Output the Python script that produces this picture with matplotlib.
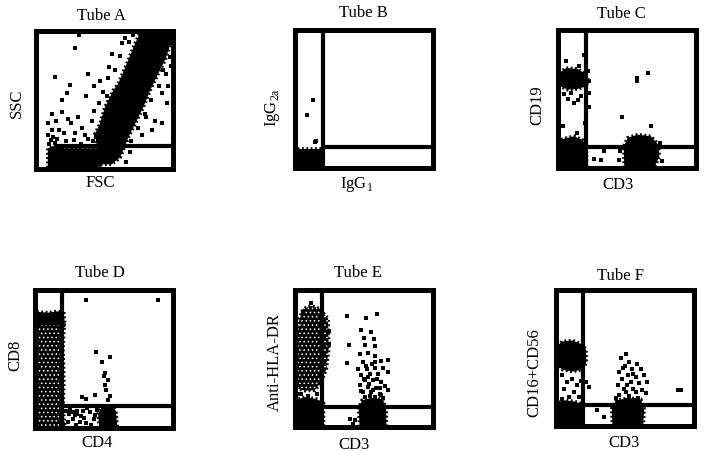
import matplotlib.pyplot as plt

plt.rcParams['font.family'] = ['Liberation Serif', 'DejaVu Serif']
plt.rcParams['mathtext.fontset'] = 'custom'
plt.rcParams['mathtext.rm'] = 'Liberation Serif'
plt.rcParams['hatch.linewidth'] = 0.6

# ---- data (all values on a 0-100 channel scale) ----
tubes = ['Tube A', 'Tube B', 'Tube C', 'Tube D', 'Tube E', 'Tube F']
x_labels = ['FSC', r'IgG$_{\mathregular{1}}$', 'CD3', 'CD4', 'CD3', 'CD3']
y_labels = ['SSC', r'IgG$_{\mathregular{2a}}$', 'CD19', 'CD8', 'Anti-HLA-DR', 'CD16+CD56']

# quadrant gates: vertical threshold, horizontal threshold, where the horizontal one starts
gate_x = [None, 20.9, 20.9, 20.2, 20.2, 20.2]
gate_y = [16.8, 15.1, 15.1, 15.8, 14.5, 15.2]
gate_y_from = [15.2, 20.9, 20.9, 20.2, 20.2, 20.2]

# dense populations (outlines of solid clouds)
blobs_a = [
    [(47, 3.4), (43.4, 25.4), (47, 32.7), (50.7, 44.9), (56.8, 57), (60.5, 62), (67.8, 79),
     (72.7, 91), (76.3, 98.4), (98.3, 99.6), (100, 96), (97, 86), (94.6, 79), (88.5, 67),
     (83.7, 57), (78.8, 45), (72.7, 32.7), (67.8, 23), (65.4, 16.8), (61.7, 8.3), (55.6, 3.4)],
    [(9, 1), (9, 15), (14, 17), (20, 15), (48, 15), (48, 3), (45, 1)],
]
blobs_b = [
    [(0, 0), (0, 13.4), (20.9, 13.4), (20.9, 0)],
]
blobs_c = [
    [(1.3, 68.5), (6.2, 72.1), (14.6, 71.4), (19.4, 68.5), (22.3, 63.6), (20.6, 58.8),
     (14.6, 56.9), (7.4, 56.4), (2, 58.8)],
    [(0, 0), (0, 19), (5, 21), (12, 22.6), (18, 20), (21, 16), (21, 0)],
    [(48.4, 0), (48, 15.3), (50.8, 21.4), (58.1, 23.8), (67.8, 22.6), (73, 16.5), (73.8, 8.1),
     (70.2, 0)],
]
blobs_d = [
    [(0, 72), (0, 82.5), (2.5, 83.7), (9.8, 83.2), (17, 84.2), (21.3, 82.5), (21.9, 75.1),
     (20.6, 72)],
    [(0, 0), (0, 14), (8, 15), (20, 14), (20, 0)],
    [(47, 0), (46, 10), (49, 15), (55, 16), (59, 12), (60, 0)],
]
blobs_e = [
    [(0, 0), (0, 19), (8, 21.5), (16, 20), (21, 17), (21, 0)],
    [(47.2, 0), (46.5, 13), (48.9, 19.1), (55.7, 20.8), (64.1, 19.8), (66.5, 11.8), (66.5, 0)],
]
blobs_f = [
    [(1.3, 59), (5, 62), (12.2, 62.7), (18.2, 60.3), (21.9, 56.5), (22.3, 46.7), (19.4, 41.4),
     (12.2, 40), (5, 41.4), (1.3, 44.3)],
    [(0, 0), (0, 17), (6, 19), (14, 18), (20, 16), (20, 0)],
    [(41.2, 0), (40.7, 12.8), (43.6, 18.9), (53.3, 20.6), (61.7, 19.6), (64.1, 12.8), (63.4, 0)],
]

# populations that are dense but not solid (speckled areas)
speckled_d = [
    [(0, 0), (0, 74), (21.5, 74), (20.6, 57), (21.3, 32.7), (20.6, 13.4), (22.3, 0)],
]
speckled_e = [
    [(2.5, 27.6), (1.3, 44.6), (2, 66.5), (3.7, 78.7), (6.2, 86), (12.2, 88), (18.2, 86),
     (24.3, 78.7), (24.8, 56.8), (23.1, 42.2), (19.4, 32.5), (14.6, 26.4), (7.4, 26.2)],
]

# individual events outside the dense clouds
dots_a = [(32, 97), (29, 88), (14, 67), (25, 61), (38, 69), (23, 55), (19, 50), (37, 53), (12, 40),
          (19, 41), (9, 33), (15, 35), (24, 36), (31, 38), (26, 33), (34, 30), (17, 28), (21, 26),
          (29, 26), (36, 25), (13, 23), (41, 35), (43, 42), (52, 53), (54, 74), (56, 83), (63, 91),
          (65, 95), (85, 97), (99, 91), (98, 81), (95, 69), (97, 60), (92, 55), (96, 48), (92, 33),
          (85, 28), (78, 25), (87, 35), (81, 38), (43, 60), (47, 64), (12, 28), (16, 22), (22, 20),
          (28, 21), (33, 18), (38, 22), (44, 24), (40, 17), (10, 18), (14, 19), (46, 48), (49, 56),
          (53, 66), (58, 72), (62, 82), (68, 92), (71, 97), (80, 40), (84, 50), (90, 60), (93, 72),
          (99, 75), (75, 30), (70, 20), (69, 12), (66, 5), (38, 11), (42, 20), (9, 25), (11, 21)]
dots_b = [(13.4, 48.7), (9.3, 37.8), (14.6, 18.2), (15.8, 19)]
dots_c = [(57.6, 65), (57.6, 62.4), (65.8, 68.5), (46.5, 36.6), (67.8, 30.3), (26.7, 6.2),
          (31.5, 5.2), (44.8, 5.7), (33.9, 12.2), (19.4, 81.8), (6.2, 77), (15.8, 73.3),
          (9.8, 54), (12.2, 46.8), (17, 52), (7.4, 50), (23, 62.5), (23, 54), (23, 44), (4, 30),
          (14, 25), (20, 32), (3, 5), (76, 5), (45, 12), (5, 53), (15, 49), (22, 70), (74, 18)]
dots_d = [(37.6, 92.2), (89.5, 92.2), (44.8, 54.7), (54.5, 51.1), (48.9, 47.5), (51.3, 39.7),
          (50.4, 37.3), (53.3, 34.2), (51.3, 30.6), (52.1, 27), (43.6, 23.3), (34.4, 22.1),
          (37.6, 20.4), (53.3, 19.7), (54.5, 23), (25, 10), (28, 6), (31, 12), (34, 8), (37, 3),
          (40, 11), (43, 6), (30, 2), (26, 13), (38, 14), (45, 13), (33, 4), (41, 2), (28, 11),
          (29, 9), (31, 10), (36, 7), (24, 4), (44, 9), (23, 12), (35, 12)]
dots_e = [(38.3, 80.4), (52.1, 79.4), (60, 81.9), (48.4, 70.2), (55.7, 69), (50.4, 64.6),
          (57.6, 64.1), (39.5, 59.7), (51.3, 59.2), (58.1, 58.8), (47.2, 53.2), (53.3, 53.9),
          (58.6, 51.5), (49.6, 47.1), (56.2, 45.9), (62.9, 47.6), (67.8, 48.3), (46, 41.7),
          (52.8, 41.7), (58.1, 42.7), (64.1, 42.7), (48.4, 37.3), (54.5, 38.6), (60.5, 38.6),
          (67.8, 39.8), (50.8, 33.7), (56.9, 33.7), (62.9, 32.5), (47.2, 30), (53.3, 28.8),
          (59.3, 28.1), (65.3, 29.6), (49.6, 25.2), (55.7, 25.2), (61.7, 24), (67.8, 26.4),
          (51.3, 21.5), (58.1, 21.5), (64.1, 20.8), (38.3, 46.4), (40, 5.7), (43.6, 4.5),
          (42.4, 2.1), (50, 35), (54, 31), (57, 27), (52, 44), (60, 35), (55, 22), (62, 28),
          (48, 26), (58, 47), (53, 36), (63, 23), (12.2, 90.4), (6.2, 83.6), (5, 24), (10, 22),
          (16, 24), (25, 60), (25, 70), (2, 24)]
dots_f = [(51.3, 52.9), (47.2, 49.7), (52.8, 46.8), (58.6, 45.6), (48.9, 42.5), (55.2, 41.5),
          (61.7, 41.5), (46, 39.5), (52.1, 37.1), (58.1, 35.9), (64.1, 37.6), (48, 34.2),
          (54.5, 32.3), (60.5, 31.8), (66.5, 32.3), (49.6, 27.5), (55.7, 27), (62.4, 26.5),
          (46, 22.7), (53.3, 22.1), (59.3, 20.3), (65.3, 24.2), (50.8, 18.9), (56.9, 18.9),
          (43.6, 20.7), (5, 37.1), (12.2, 34.7), (8.6, 32.2), (15.8, 29.8), (6.2, 27.4),
          (13.4, 25), (9.8, 21.3), (17, 21.3), (5, 20.1), (18.2, 33.4), (21.9, 32.2), (24.3, 28.5),
          (88.3, 26.8), (90.5, 26.8), (30, 12), (35, 7), (50, 44), (56, 38), (52, 30), (58, 25),
          (51, 25), (45, 30)]

blobs = [blobs_a, blobs_b, blobs_c, blobs_d, blobs_e, blobs_f]
speckled = [[], [], [], speckled_d, speckled_e, []]
dots = [dots_a, dots_b, dots_c, dots_d, dots_e, dots_f]

# ---- layout (pixel boxes of the plot frames, text anchors) ----
W, H = 707, 452
boxes = [(35.5, 32, 172.5, 170), (294.5, 30.5, 432.5, 168.5), (557.5, 30.5, 695.5, 168.5),
         (34.5, 290.5, 172.5, 428.5), (294.5, 290.5, 432.5, 427.5), (555.5, 290.5, 693.8, 427.2)]
title_pos = [(101, 15.5), (363, 13), (621, 13.5), (99.5, 273), (357.5, 273), (620.5, 276.5)]
xlab_pos = [(100, 183.5), (357, 185), (618, 185), (97.5, 443), (354, 445), (624, 443.5)]
ylab_pos = [(16.5, 103.5), (272.5, 108), (537.5, 105), (15, 355), (275, 362.5), (534.5, 372.5)]

fig = plt.figure(figsize=(W / 100, H / 100), dpi=100)

for i in range(6):
    l, t, r, b = boxes[i]
    ax = fig.add_axes([l / W, 1 - b / H, (r - l) / W, (b - t) / H])
    ax.set_xlim(0, 100)
    ax.set_ylim(0, 100)
    ax.set_xticks([])
    ax.set_yticks([])
    for s in ax.spines.values():
        s.set_linewidth(3.6)
        s.set_color('black')
        s.set_zorder(5)

    for poly in blobs[i]:
        xs = [p[0] for p in poly]
        ys = [p[1] for p in poly]
        ax.fill(xs, ys, facecolor='black', edgecolor='black', lw=2.6,
                linestyle=(0, (0.5, 0.7)), zorder=2)

    for poly in speckled[i]:
        xs = [p[0] for p in poly]
        ys = [p[1] for p in poly]
        ax.fill(xs, ys, facecolor='black', edgecolor='black', lw=2.6,
                linestyle=(0, (0.5, 0.7)), zorder=2)
        ax.fill(xs, ys, facecolor='none', edgecolor='white', hatch='....', lw=0, zorder=2.5)

    dx = [p[0] for p in dots[i]]
    dy = [p[1] for p in dots[i]]
    ax.scatter(dx, dy, s=7, marker='s', color='black', lw=0, zorder=3)

    if gate_x[i] is not None:
        ax.plot([gate_x[i], gate_x[i]], [0, 100], color='black', lw=3.0,
                solid_capstyle='butt', zorder=4)
    ax.plot([gate_y_from[i], 100], [gate_y[i], gate_y[i]], color='black', lw=3.0,
            solid_capstyle='butt', zorder=4)

    fig.text(title_pos[i][0] / W, 1 - title_pos[i][1] / H, tubes[i],
             ha='center', va='center', fontsize=12)
    fig.text(xlab_pos[i][0] / W, 1 - xlab_pos[i][1] / H, x_labels[i],
             ha='center', va='center', fontsize=12)
    fig.text(ylab_pos[i][0] / W, 1 - ylab_pos[i][1] / H, y_labels[i],
             ha='center', va='center', fontsize=12, rotation=90)

fig.savefig('out.png', dpi=100)
